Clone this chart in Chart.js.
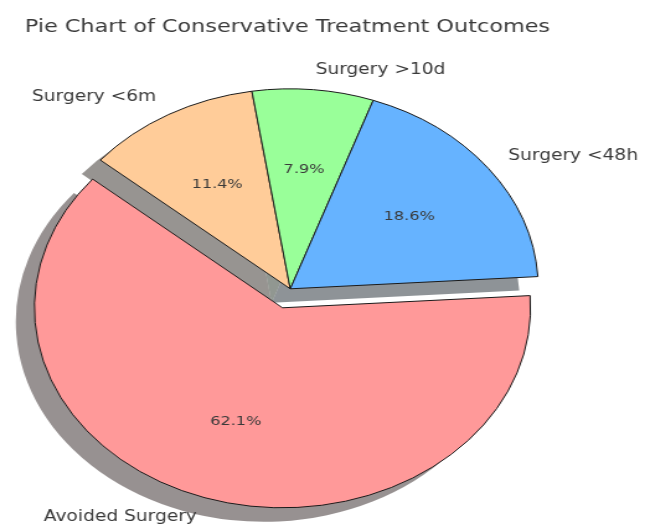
<!DOCTYPE html>
<html lang="en">
<head>
    <meta charset="UTF-8">
    <title>Pie Chart of Conservative Treatment Outcomes</title>
    <script src="https://cdn.jsdelivr.net/npm/chart.js"></script>
    <style>
        html, body { margin: 0; padding: 0; background: #fff; overflow: hidden; }
        /* the source picture was stretched sideways, so stretch the canvas the same way */
        #wrap { width: 520px; height: 524px; transform: scaleX(1.2404); transform-origin: 0 0; }
    </style>
</head>
<body>
    <div id="wrap"><canvas id="pieChart" width="520" height="524"></canvas></div>

    <script>
        // slices in clockwise drawing order, starting just above 3 o'clock
        const categories = ['Avoided Surgery', 'Surgery <6m', 'Surgery >10d', 'Surgery <48h'];
        const shares = [62.1, 11.4, 7.9, 18.6];

        const sliceColors = ['#ff9999', '#ffcc99', '#99ff99', '#66b3ff'];
        const explode = [0.1, 0, 0, 0];
        const shadowShift = { x: -15, y: 14 };
        const textFont = 'DejaVu Sans';

        // mostly neutral grey, with a faint tint of the wedge colour
        function shadowColor(hex) {
            const n = parseInt(hex.slice(1), 16);
            const r = Math.round(((n >> 16) & 255) * 0.1 + 40);
            const g = Math.round(((n >> 8) & 255) * 0.1 + 40);
            const b = Math.round((n & 255) * 0.1 + 40);
            return `rgba(${r},${g},${b},0.55)`;
        }

        // push exploded slices out along their middle angle
        const explodePlugin = {
            id: 'explode',
            afterDatasetsUpdate(chart) {
                chart.getDatasetMeta(0).data.forEach((arc, i) => {
                    const mid = (arc.startAngle + arc.endAngle) / 2;
                    const d = explode[i] * arc.outerRadius;
                    arc.x += Math.cos(mid) * d;
                    arc.y += Math.sin(mid) * d;
                });
            }
        };

        // grey drop shadow behind every wedge
        const shadowPlugin = {
            id: 'shadow',
            beforeDatasetsDraw(chart) {
                const ctx = chart.ctx;
                ctx.save();
                chart.getDatasetMeta(0).data.forEach((arc, i) => {
                    const cx = arc.x + shadowShift.x;
                    const cy = arc.y + shadowShift.y;
                    ctx.beginPath();
                    ctx.moveTo(cx, cy);
                    ctx.arc(cx, cy, arc.outerRadius, arc.startAngle, arc.endAngle);
                    ctx.closePath();
                    ctx.fillStyle = shadowColor(sliceColors[i]);
                    ctx.fill();
                });
                ctx.restore();
            }
        };

        // category names outside, percentages inside
        const labelPlugin = {
            id: 'sliceLabels',
            afterDatasetsDraw(chart) {
                const ctx = chart.ctx;
                ctx.save();
                ctx.textBaseline = 'middle';
                ctx.fillStyle = '#3a3a3a';
                chart.getDatasetMeta(0).data.forEach((arc, i) => {
                    const mid = (arc.startAngle + arc.endAngle) / 2;
                    const c = Math.cos(mid), s = Math.sin(mid);
                    const r = arc.outerRadius;

                    ctx.font = `13px "${textFont}"`;
                    ctx.textAlign = 'center';
                    ctx.fillText(shares[i].toFixed(1) + '%', arc.x + c * r * 0.6, arc.y + s * r * 0.6);

                    ctx.font = `15px "${textFont}"`;
                    ctx.textAlign = c > 0 ? 'left' : 'right';
                    ctx.fillText(categories[i], arc.x + c * r * 1.1, arc.y + s * r * 1.1);
                });
                ctx.restore();
            }
        };

        const ctx = document.getElementById('pieChart').getContext('2d');
        const chart = new Chart(ctx, {
            type: 'pie',
            data: {
                labels: categories,
                datasets: [{
                    data: shares,
                    backgroundColor: sliceColors,
                    borderColor: '#1a1a1a',
                    borderWidth: 1
                }]
            },
            options: {
                responsive: false,
                animation: false,
                rotation: 86.5,
                radius: 200,
                layout: { padding: { left: 20, right: 72, top: 0, bottom: 0 } },
                plugins: {
                    legend: { display: false },
                    tooltip: { enabled: false },
                    title: {
                        display: true,
                        text: 'Pie Chart of Conservative Treatment Outcomes',
                        align: 'start',
                        color: '#3a3a3a',
                        font: { family: textFont, size: 18, weight: 'normal' },
                        padding: { top: 17, bottom: 15 }
                    }
                }
            },
            plugins: [explodePlugin, shadowPlugin, labelPlugin]
        });
    </script>
</body>
</html>
